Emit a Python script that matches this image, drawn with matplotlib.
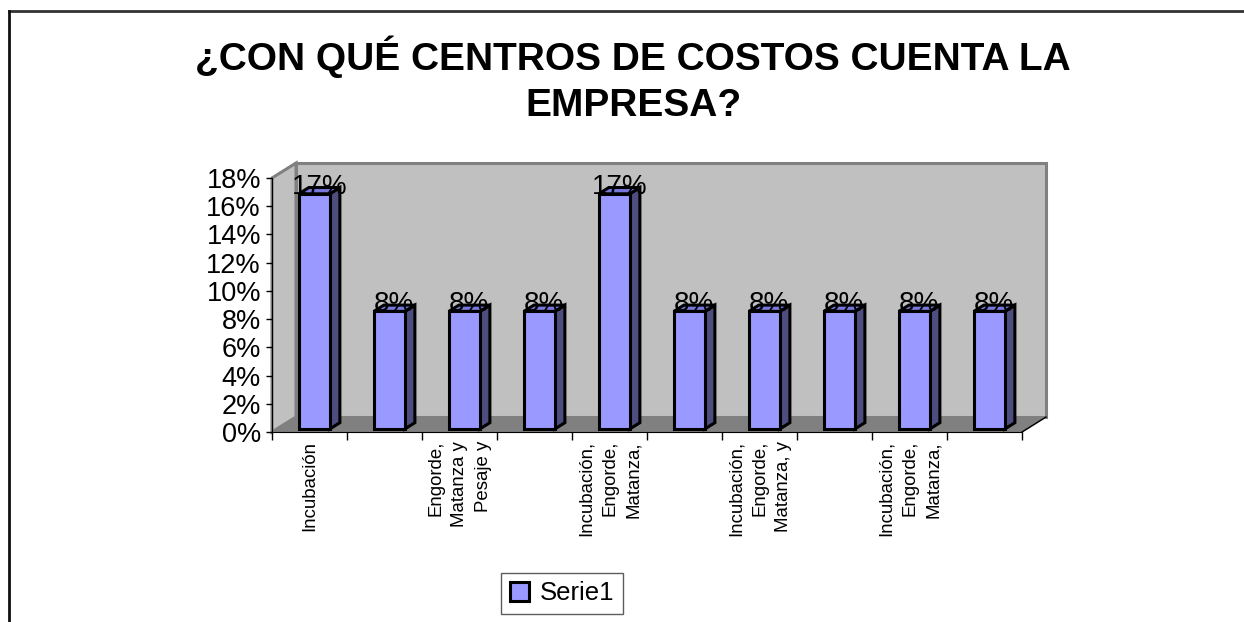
import matplotlib
matplotlib.use("Agg")
import matplotlib.pyplot as plt
from matplotlib.patches import Polygon
from matplotlib.lines import Line2D
from matplotlib.ticker import PercentFormatter, FixedLocator

# ---- data ----
title = "¿CON QUÉ CENTROS DE COSTOS CUENTA LA\nEMPRESA?"
categories = [
    "Incubación",
    "",
    "Engorde,\nMatanza y\nPesaje y",
    "",
    "Incubación,\nEngorde,\nMatanza,",
    "",
    "Incubación,\nEngorde,\nMatanza, y",
    "",
    "Incubación,\nEngorde,\nMatanza,",
    "",
]
values = [2/12, 1/12, 1/12, 1/12, 2/12, 1/12, 1/12, 1/12, 1/12, 1/12]
series_name = "Serie1"
yticks = [0, 0.02, 0.04, 0.06, 0.08, 0.10, 0.12, 0.14, 0.16, 0.18]

plt.rcParams['font.family'] = ['Liberation Sans', 'DejaVu Sans']

W, H = 1244, 622
fig = plt.figure(figsize=(W/100, H/100), dpi=100)
ax = fig.add_axes([272/W, (H-432)/H, 750/W, 254/H])
ax.set_facecolor('none')

n = len(values)
ymax = 0.18
ax.set_xlim(0, n)
ax.set_ylim(0, ymax)

# 3D depth offsets in data units
DX = 24/75
DY = 15/254*ymax

wall_c = '#C0C0C0'
floor_c = '#808080'
edge_c = '#808080'
# back wall
ax.add_patch(Polygon([(DX, DY), (n+DX, DY), (n+DX, ymax+DY), (DX, ymax+DY)],
                     closed=True, fc=wall_c, ec=edge_c, lw=2.2, clip_on=False, zorder=0))
# left wall
ax.add_patch(Polygon([(0, 0), (DX, DY), (DX, ymax+DY), (0, ymax)],
                     closed=True, fc=wall_c, ec=edge_c, lw=2.2, clip_on=False, zorder=0))
# floor
ax.add_patch(Polygon([(0, 0), (n, 0), (n+DX, DY), (DX, DY)],
                     closed=True, fc=floor_c, ec=floor_c, lw=1, clip_on=False, zorder=0.5))
ax.add_line(Line2D([n, n+DX], [0, DY], color='black', lw=1, clip_on=False, zorder=1))

# bars
f = 0.2      # depth position of front face
d = 0.42     # bar depth fraction
bw = 31/75   # bar width
xs = [i + 0.5 + f*DX for i in range(n)]
base = f*DY
bars = ax.bar(xs, values, width=bw, bottom=base, color='#9999FF', edgecolor='black',
              linewidth=2.2, zorder=3, label=series_name)
for x, v in zip(xs, values):
    xl, xr = x - bw/2, x + bw/2
    top = base + v
    side = Polygon([(xr, base), (xr+d*DX, base+d*DY), (xr+d*DX, top+d*DY), (xr, top)],
                   closed=True, fc='#4D4D80', ec='black', lw=2.2, zorder=2.9, clip_on=False)
    topf = Polygon([(xl, top), (xr, top), (xr+d*DX, top+d*DY), (xl+d*DX, top+d*DY)],
                   closed=True, fc='#7878DC', ec='black', lw=2.2, zorder=2.9, clip_on=False)
    ax.add_patch(side)
    ax.add_patch(topf)
    ax.text(x + d*DX/2, top, f"{round(v*100):.0f}%", ha='center', va='baseline',
            fontsize=20, zorder=5, clip_on=False)

# axes styling
for s in ['top', 'right']:
    ax.spines[s].set_visible(False)
ax.spines['left'].set_color('black')
ax.spines['bottom'].set_color('black')
ax.spines['left'].set_zorder(1)
ax.spines['bottom'].set_zorder(1)

ax.set_yticks(yticks)
ax.yaxis.set_major_formatter(PercentFormatter(1.0, decimals=0))
ax.tick_params(axis='y', length=4, width=1, pad=4, labelsize=19.5)

ax.xaxis.set_major_locator(FixedLocator(list(range(n+1))))
ax.set_xticks([i + 0.5 for i in range(n)], minor=True)
ax.set_xticklabels([], minor=False)
ax.set_xticklabels(categories, minor=True, rotation=90, ha='center', va='top',
                   multialignment='right', linespacing=1.5, fontsize=13.4)
ax.tick_params(axis='x', which='major', length=6, width=1, direction='out')
ax.tick_params(axis='x', which='minor', length=0, pad=6.5)

# title
fig.text(633/W, 1-80/H, title, ha='center', va='center', fontsize=28,
         fontweight='bold', linespacing=1.36)

# legend
leg = ax.legend(handles=[bars], loc='center', bbox_to_anchor=(562/W, 1-593.5/H),
                bbox_transform=fig.transFigure, fontsize=18.5, frameon=True, fancybox=False,
                edgecolor='#333333', handlelength=0.75, handleheight=0.75,
                handletextpad=0.4, borderpad=0.35, borderaxespad=0)
leg.get_frame().set_linewidth(1)

# chart frame
fig.add_artist(Line2D([9/W, 1], [1-11/H, 1-11/H], transform=fig.transFigure,
                      color='#333333', lw=2))
fig.add_artist(Line2D([9/W, 9/W], [0, 1-11/H], transform=fig.transFigure,
                      color='#111111', lw=2))

fig.savefig('out.png', dpi=100)
